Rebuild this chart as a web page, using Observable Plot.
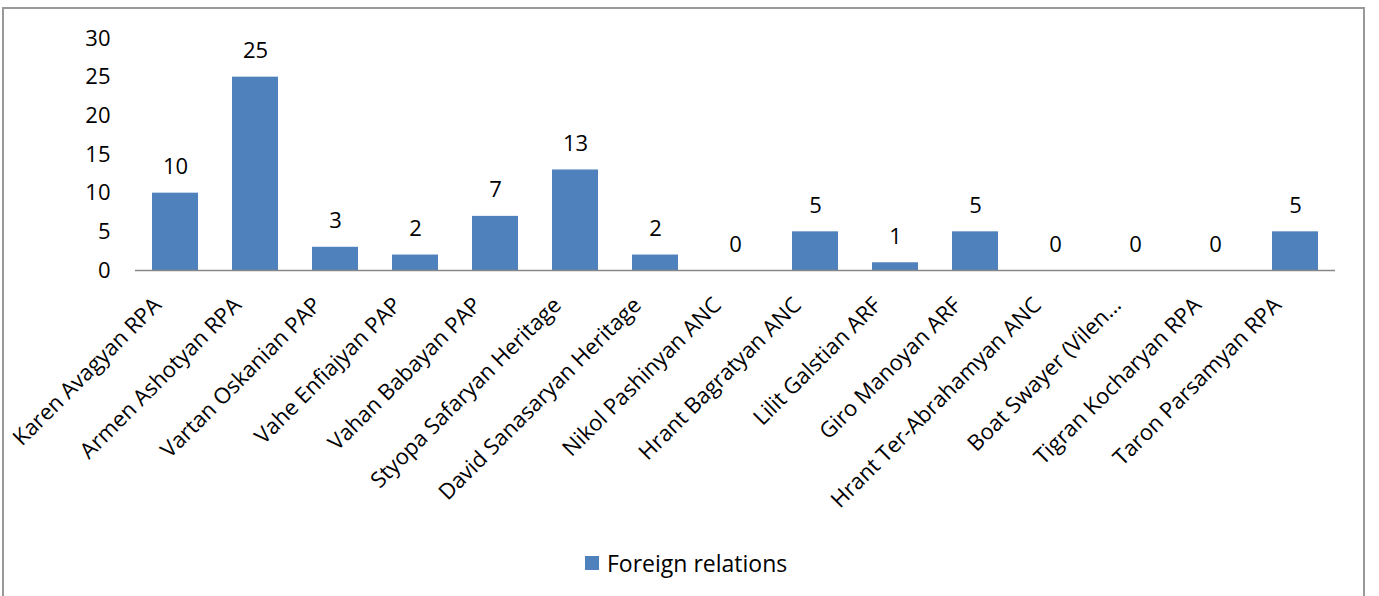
<!DOCTYPE html>
<html>
<head>
<meta charset="utf-8">
<script src="https://cdn.jsdelivr.net/npm/d3@7"></script>
<script src="https://cdn.jsdelivr.net/npm/@observablehq/plot@0.6"></script>
<style>
  body { margin: 0; background: #fff; font-family: "Open Sans", sans-serif; }
  #frame { position: absolute; left: 2px; top: 7px; width: 1359px; height: 600px; border: 2px solid #999; background: #fff; }
  #chart { position: absolute; left: 0; top: 0; }
  #legend { position: absolute; left: 581px; top: 538px; display: flex; align-items: center; font-size: 23px; color: #000; }
  #legend .sw { width: 14px; height: 14px; background: #4F81BD; margin-right: 8px; }
</style>
</head>
<body>
<div id="frame">
  <div id="chart"></div>
  <div id="legend"><span class="sw"></span><span>Foreign relations</span></div>
</div>
<script>
const categories = [
  "Karen Avagyan RPA", "Armen Ashotyan RPA", "Vartan Oskanian PAP", "Vahe Enfiajyan PAP",
  "Vahan Babayan PAP", "Styopa Safaryan Heritage", "David Sanasaryan Heritage", "Nikol Pashinyan ANC",
  "Hrant Bagratyan ANC", "Lilit Galstian ARF", "Giro Manoyan ARF", "Hrant Ter-Abrahamyan ANC",
  "Boat Swayer (Vilen…", "Tigran Kocharyan RPA", "Taron Parsamyan RPA"
];
const values = [10, 25, 3, 2, 7, 13, 2, 0, 5, 1, 5, 0, 0, 0, 5];
const yTicks = [0, 5, 10, 15, 20, 25, 30];
const seriesName = "Foreign relations";

const data = categories.map((c, i) => ({name: c, value: values[i]}));

const chart = Plot.plot({
  width: 1359,
  height: 530,
  marginLeft: 131,
  marginRight: 28,
  marginTop: 29,
  marginBottom: 269,
  style: { fontFamily: "Open Sans, sans-serif", fontSize: "22px", color: "#000", background: "transparent" },
  x: { domain: categories, paddingInner: 0.425, paddingOuter: 0.2125, label: null },
  y: { domain: [0, 30], ticks: yTicks, label: null },
  marks: [
    Plot.barY(data, { x: "name", y: "value", fill: "#4F81BD" }),
    Plot.text(data, { x: "name", y: "value", text: d => String(d.value), lineAnchor: "bottom", dy: -19, fontSize: 22, fill: "#000" }),
    Plot.axisY({ ticks: yTicks, tickSize: 0, tickPadding: 25, fontSize: 22, label: null }),
    Plot.ruleX([0], { frameAnchor: "left", stroke: "#888", strokeWidth: 1.5 }),
    Plot.axisX({ tickSize: 0, tickRotate: -45, tickPadding: 20, dx: -18, dy: 11, fontSize: 22, label: null }),
    Plot.ruleY([0], { stroke: "#888", strokeWidth: 1.5 })
  ]
});
document.getElementById("chart").appendChild(chart);
</script>
</body>
</html>
